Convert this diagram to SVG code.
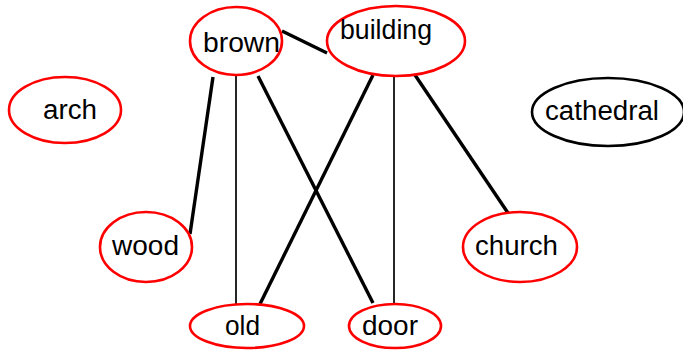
<svg xmlns="http://www.w3.org/2000/svg" width="683" height="352" viewBox="0 0 683 352">
  <style>
    .node { fill: none; stroke: #ff0000; stroke-width: 2.6; }
    .node.plain { stroke: #000000; }
    .label { font-family: "Liberation Sans", Arial, sans-serif; font-size: 27px; fill: #000000; }
    .edge { stroke: #000000; fill: none; stroke-linecap: butt; }
    .thick { stroke-width: 3.4; }
    .thin { stroke-width: 1.7; }
  </style>
  <rect width="683" height="352" fill="#ffffff"/>

  <g id="edges">
    <line class="edge thick" x1="282" y1="31" x2="327" y2="53"/>
    <line class="edge thick" x1="213" y1="77" x2="190" y2="234"/>
    <line class="edge thin" x1="236" y1="75" x2="236" y2="304"/>
    <line class="edge thick" x1="258" y1="76" x2="373" y2="303"/>
    <line class="edge thick" x1="373" y1="75" x2="260" y2="304"/>
    <line class="edge thin" x1="394" y1="76" x2="394" y2="304"/>
    <line class="edge thick" x1="415" y1="75" x2="508" y2="213"/>
  </g>

  <g id="brown">
    <ellipse class="node" cx="236" cy="41" rx="46" ry="34"/>
    <text class="label" x="203" y="52" textLength="77" lengthAdjust="spacingAndGlyphs">brown</text>
  </g>
  <g id="building">
    <ellipse class="node" cx="396" cy="41" rx="69" ry="35"/>
    <text class="label" x="340" y="39" textLength="92" lengthAdjust="spacingAndGlyphs">building</text>
  </g>
  <g id="arch">
    <ellipse class="node" cx="65" cy="110" rx="56" ry="33"/>
    <text class="label" x="43" y="119" textLength="54" lengthAdjust="spacingAndGlyphs">arch</text>
  </g>
  <g id="cathedral">
    <ellipse class="node plain" cx="608" cy="112" rx="76" ry="34"/>
    <text class="label" x="545" y="120" textLength="114" lengthAdjust="spacingAndGlyphs">cathedral</text>
  </g>
  <g id="wood">
    <ellipse class="node" cx="146" cy="247" rx="46" ry="35"/>
    <text class="label" x="112" y="255" textLength="67" lengthAdjust="spacingAndGlyphs">wood</text>
  </g>
  <g id="church">
    <ellipse class="node" cx="520" cy="247" rx="57" ry="35"/>
    <text class="label" x="475" y="255" textLength="83" lengthAdjust="spacingAndGlyphs">church</text>
  </g>
  <g id="old">
    <ellipse class="node" cx="247" cy="326" rx="57" ry="22"/>
    <text class="label" x="225" y="335" textLength="35" lengthAdjust="spacingAndGlyphs">old</text>
  </g>
  <g id="door">
    <ellipse class="node" cx="395" cy="326" rx="46" ry="22"/>
    <text class="label" x="362" y="335" textLength="56" lengthAdjust="spacingAndGlyphs">door</text>
  </g>
</svg>
